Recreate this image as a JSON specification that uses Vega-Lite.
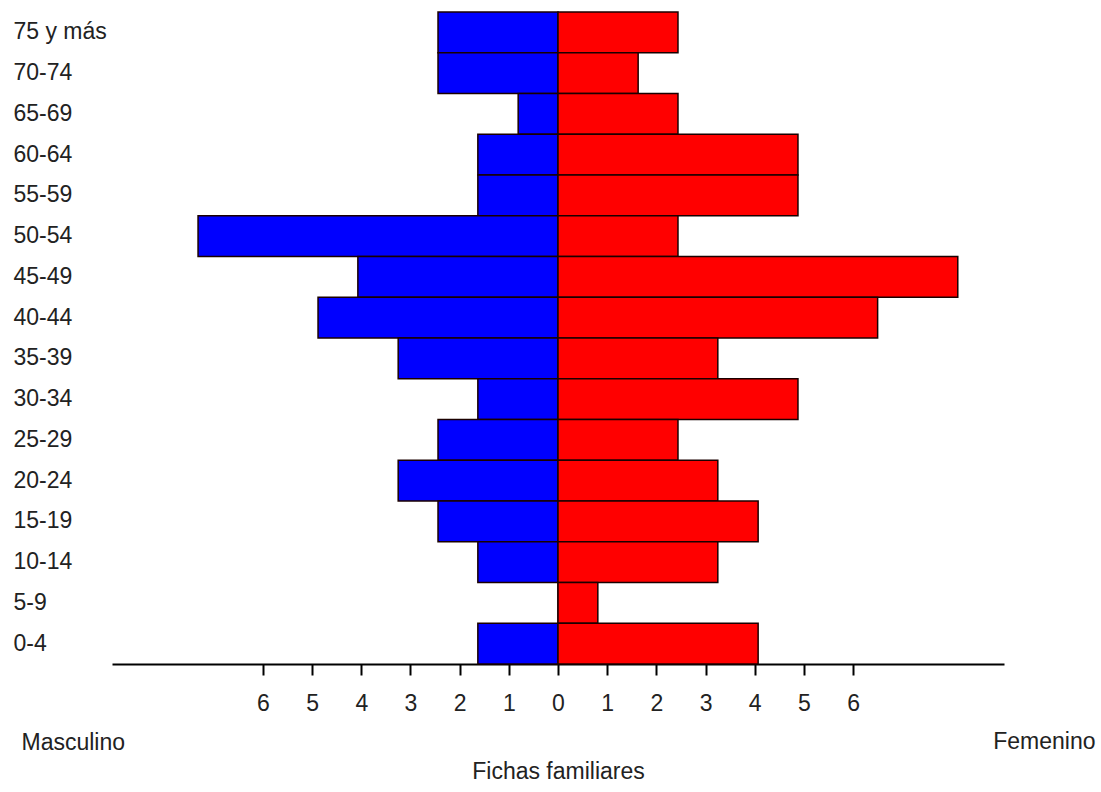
{
  "$schema": "https://vega.github.io/schema/vega-lite/v6.json",
  "width": 892,
  "height": 652,
  "autosize": {"type": "none"},
  "padding": {"left": 112, "top": 12, "right": 97, "bottom": 128},
  "background": "white",
  "config": {
    "view": {"stroke": null},
    "font": "Liberation Sans",
    "axis": {"grid": false}
  },
  "data": {
    "values": [
      {"edad": "75 y más", "sexo": "Masculino", "valor": -2.44},
      {"edad": "70-74", "sexo": "Masculino", "valor": -2.44},
      {"edad": "65-69", "sexo": "Masculino", "valor": -0.81},
      {"edad": "60-64", "sexo": "Masculino", "valor": -1.63},
      {"edad": "55-59", "sexo": "Masculino", "valor": -1.63},
      {"edad": "50-54", "sexo": "Masculino", "valor": -7.32},
      {"edad": "45-49", "sexo": "Masculino", "valor": -4.07},
      {"edad": "40-44", "sexo": "Masculino", "valor": -4.88},
      {"edad": "35-39", "sexo": "Masculino", "valor": -3.25},
      {"edad": "30-34", "sexo": "Masculino", "valor": -1.63},
      {"edad": "25-29", "sexo": "Masculino", "valor": -2.44},
      {"edad": "20-24", "sexo": "Masculino", "valor": -3.25},
      {"edad": "15-19", "sexo": "Masculino", "valor": -2.44},
      {"edad": "10-14", "sexo": "Masculino", "valor": -1.63},
      {"edad": "5-9", "sexo": "Masculino", "valor": 0},
      {"edad": "0-4", "sexo": "Masculino", "valor": -1.63},
      {"edad": "75 y más", "sexo": "Femenino", "valor": 2.44},
      {"edad": "70-74", "sexo": "Femenino", "valor": 1.63},
      {"edad": "65-69", "sexo": "Femenino", "valor": 2.44},
      {"edad": "60-64", "sexo": "Femenino", "valor": 4.88},
      {"edad": "55-59", "sexo": "Femenino", "valor": 4.88},
      {"edad": "50-54", "sexo": "Femenino", "valor": 2.44},
      {"edad": "45-49", "sexo": "Femenino", "valor": 8.13},
      {"edad": "40-44", "sexo": "Femenino", "valor": 6.5},
      {"edad": "35-39", "sexo": "Femenino", "valor": 3.25},
      {"edad": "30-34", "sexo": "Femenino", "valor": 4.88},
      {"edad": "25-29", "sexo": "Femenino", "valor": 2.44},
      {"edad": "20-24", "sexo": "Femenino", "valor": 3.25},
      {"edad": "15-19", "sexo": "Femenino", "valor": 4.07},
      {"edad": "10-14", "sexo": "Femenino", "valor": 3.25},
      {"edad": "5-9", "sexo": "Femenino", "valor": 0.81},
      {"edad": "0-4", "sexo": "Femenino", "valor": 4.07}
    ]
  },
  "encoding": {
    "x": {
      "field": "valor",
      "type": "quantitative",
      "title": "Fichas familiares",
      "scale": {"domain": [-9.07, 9.07], "nice": false, "zero": false},
      "axis": {
        "values": [-6, -5, -4, -3, -2, -1, 0, 1, 2, 3, 4, 5, 6],
        "labelExpr": "'' + abs(datum.value)",
        "domainColor": "#000000",
        "domainWidth": 2,
        "tickColor": "#000000",
        "tickWidth": 2,
        "tickSize": 11,
        "labelPadding": 17,
        "labelFontSize": 23,
        "labelColor": "#222222",
        "labelFlush": false,
        "labelOverlap": false,
        "titleFontSize": 23,
        "titleFontWeight": "normal",
        "titleColor": "#222222",
        "titleBaseline": "alphabetic",
        "titleY": 114
      }
    },
    "color": {
      "field": "sexo",
      "type": "nominal",
      "scale": {"domain": ["Masculino", "Femenino"], "range": ["#0000ff", "#ff0000"]},
      "legend": null
    }
  },
  "layer": [
    {
      "transform": [{"filter": "datum.sexo == 'Masculino'"}],
      "mark": {"type": "bar", "stroke": "#1a0000", "strokeWidth": 1.5, "opacity": 1},
      "encoding": {
        "y": {
          "field": "edad",
          "type": "nominal",
          "scale": {
            "domain": ["75 y más", "70-74", "65-69", "60-64", "55-59", "50-54", "45-49", "40-44", "35-39", "30-34", "25-29", "20-24", "15-19", "10-14", "5-9", "0-4"],
            "paddingInner": 0,
            "paddingOuter": 0
          },
          "axis": {
            "orient": "left",
            "domain": false,
            "ticks": false,
            "tickSize": 0,
            "labelAlign": "left",
            "labelPadding": 99,
            "labelFontSize": 23,
            "labelColor": "#222222",
            "title": "Masculino",
            "titleAngle": 0,
            "titleAlign": "left",
            "titleBaseline": "alphabetic",
            "titleX": -91,
            "titleY": 737,
            "titleFontSize": 23,
            "titleFontWeight": "normal",
            "titleColor": "#222222"
          }
        }
      }
    },
    {
      "transform": [{"filter": "datum.sexo == 'Femenino'"}],
      "mark": {"type": "bar", "stroke": "#1a0000", "strokeWidth": 1.5, "opacity": 1},
      "encoding": {
        "y": {
          "field": "edad",
          "type": "nominal",
          "axis": {
            "orient": "right",
            "domain": false,
            "ticks": false,
            "labels": false,
            "title": "Femenino",
            "titleAngle": 0,
            "titleAlign": "right",
            "titleBaseline": "alphabetic",
            "titleX": 91,
            "titleY": 736,
            "titleFontSize": 23,
            "titleFontWeight": "normal",
            "titleColor": "#222222"
          }
        }
      }
    }
  ],
  "resolve": {"axis": {"y": "independent"}}
}
